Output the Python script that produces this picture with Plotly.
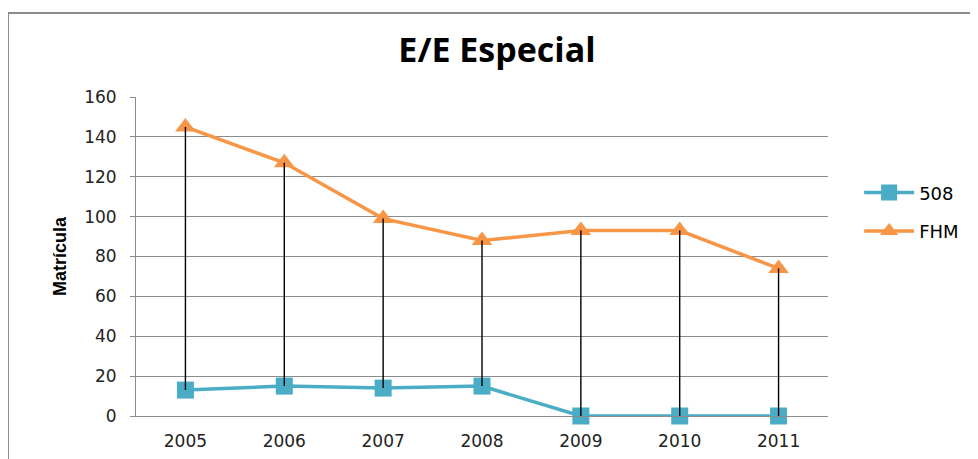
import plotly.graph_objects as go

# Data
years = ["2005", "2006", "2007", "2008", "2009", "2010", "2011"]
s508 = [13, 15, 14, 15, 0, 0, 0]
fhm = [145, 127, 99, 88, 93, 93, 74]

teal = "#4BACC6"
orange = "#F79646"

# high-low drop lines between the two series
dropX, dropY = [], []
for yr, lo, hi in zip(years, s508, fhm):
    dropX += [yr, yr, None]
    dropY += [lo, hi, None]

fig = go.Figure()

fig.add_trace(go.Scatter(
    x=years, y=s508, name="508", mode="lines+markers", legendgroup="a",
    line=dict(color=teal, width=3.5), cliponaxis=False,
    marker=dict(symbol="square", size=17, color=teal)))

fig.add_trace(go.Scatter(
    x=years, y=fhm, name="FHM", mode="lines+markers", legendgroup="b",
    line=dict(color=orange, width=3.5), cliponaxis=False,
    marker=dict(symbol="triangle-up", size=18, color=orange)))

fig.add_trace(go.Scatter(
    x=dropX, y=dropY, mode="lines",
    line=dict(color="black", width=1.4),
    showlegend=False, hoverinfo="skip"))

fig.update_layout(
    width=978, height=459,
    paper_bgcolor="white", plot_bgcolor="white",
    margin=dict(l=128, r=158, t=89, b=51),
    font=dict(family="DejaVu Sans", size=17, color="#222222"),
    title=dict(text="<b>E/E Especial</b>", x=0.5, xanchor="center",
               y=0.908, yanchor="middle",
               font=dict(family="Open Sans", size=34, color="black")),
    legend=dict(x=1.045, y=0.64, xanchor="left", yanchor="middle",
                font=dict(size=18, color="black"), traceorder="grouped",
                tracegroupgap=12, itemwidth=50),
    shapes=[dict(type="rect", xref="paper", yref="paper",
                 x0=-0.185, x1=1.5, y0=-0.5, y1=1.263,
                 line=dict(color="#8c8c8c", width=2))],
)

fig.update_xaxes(
    type="category", range=[-0.5, 6.5],
    showline=True, linecolor="#8c8c8c", linewidth=1,
    showgrid=False, ticks="", ticklabelstandoff=10)

fig.update_yaxes(
    range=[0, 160], dtick=20,
    showline=True, linecolor="#8c8c8c", linewidth=1,
    gridcolor="#8c8c8c", gridwidth=1,
    ticks="outside", ticklen=5, tickcolor="#8c8c8c",
    ticklabelstandoff=10, zeroline=False,
    title=dict(text="<b>Matrícula</b>", font=dict(family="Liberation Sans", size=18, color="black"),
               standoff=12))

fig.write_html("out.html")
